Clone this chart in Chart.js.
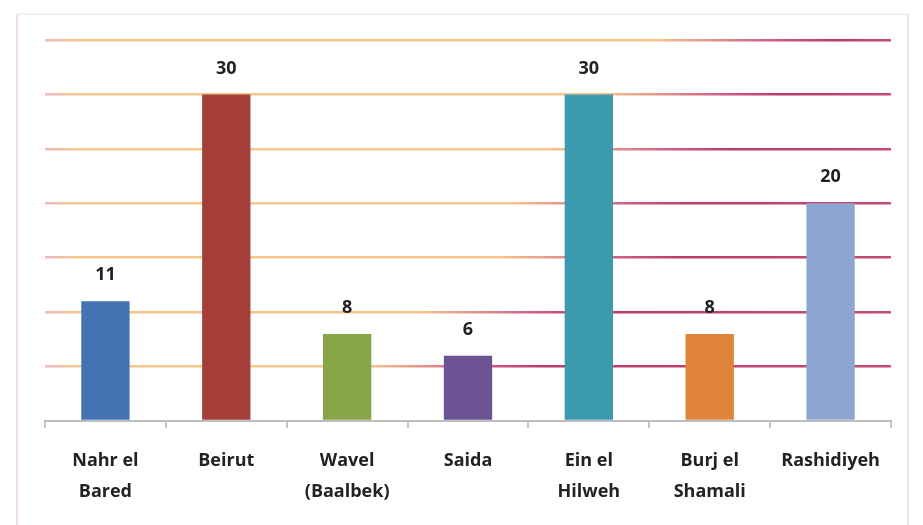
<!DOCTYPE html>
<html lang="en">
<head>
    <meta charset="UTF-8">
    <title>Camps</title>
    <style>
        html, body { margin: 0; padding: 0; background: #fff; }
        #wrap { width: 923px; height: 525px; }
    </style>
</head>
<body>
<script src="https://cdn.jsdelivr.net/npm/chart.js@4.4.1/dist/chart.umd.min.js"></script>
<div id="wrap"><canvas id="bar-chart" width="923" height="525"></canvas></div>
<script>
    var campNames = [
        ["Nahr el", "Bared"],
        "Beirut",
        ["Wavel", "(Baalbek)"],
        "Saida",
        ["Ein el", "Hilweh"],
        ["Burj el", "Shamali"],
        "Rashidiyeh"
    ];
    var campCounts = [11, 30, 8, 6, 30, 8, 20];
    var barColors = ["#4373b3", "#a63f3a", "#88a54a", "#6d5294", "#3c9ab0", "#e0843a", "#8ea7d1"];

    // where each gridline turns from orange to magenta (fraction of plot width)
    var fadePoint = [0, 0.52, 0.58, 0.68, 0.69, 0.74, 0.8, 0.86];

    function gridColor(ctx) {
        var chart = ctx.chart;
        var area = chart.chartArea;
        if (ctx.index === 0) return "rgba(0,0,0,0)";
        if (!area) return "#f6c58c";
        var g = chart.ctx.createLinearGradient(area.left, 0, area.right, 0);
        var t = fadePoint[ctx.index] || 0.7;
        g.addColorStop(0, "#f0b8c8");
        g.addColorStop(0.04, "#f6c58c");
        g.addColorStop(Math.max(0.05, t - 0.14), "#f6c58c");
        g.addColorStop(t, "#cf5c88");
        g.addColorStop(Math.min(1, t + 0.07), "#bd3a6c");
        g.addColorStop(1, "#c44a78");
        return g;
    }

    var framePlugin = {
        id: "frame",
        beforeDraw: function (chart) {
            var c = chart.ctx;
            c.save();
            c.lineWidth = 2;
            c.strokeStyle = "#f3dfe5";
            c.beginPath();
            c.moveTo(17, 525);
            c.lineTo(17, 14);
            c.stroke();
            c.strokeStyle = "#f5f0ea";
            c.beginPath();
            c.moveTo(17, 14);
            c.lineTo(908, 14);
            c.stroke();
            c.strokeStyle = "#e8e8e8";
            c.beginPath();
            c.moveTo(908, 14);
            c.lineTo(908, 525);
            c.stroke();
            c.restore();
        }
    };

    var valueLabels = {
        id: "valueLabels",
        afterDatasetsDraw: function (chart) {
            var c = chart.ctx;
            var meta = chart.getDatasetMeta(0);
            c.save();
            c.font = "bold 18px 'Open Sans', sans-serif";
            c.fillStyle = "#222";
            c.textAlign = "center";
            c.textBaseline = "middle";
            meta.data.forEach(function (bar, i) {
                c.fillText(String(campCounts[i]), bar.x, bar.y - 26);
            });
            c.restore();
        }
    };

    new Chart(document.getElementById("bar-chart"), {
        type: "bar",
        data: {
            labels: campNames,
            datasets: [{
                data: campCounts,
                backgroundColor: barColors,
                borderWidth: 0,
                barPercentage: 0.4,
                categoryPercentage: 1
            }]
        },
        options: {
            responsive: false,
            animation: false,
            layout: { padding: { top: 40, right: 32, left: 0, bottom: 0 } },
            plugins: {
                legend: { display: false },
                tooltip: { enabled: false }
            },
            scales: {
                x: {
                    afterFit: function (scale) { scale.height = 104; },
                    grid: {
                        drawOnChartArea: false,
                        drawTicks: true,
                        tickLength: 7,
                        color: "#c4c4c4",
                        lineWidth: 2
                    },
                    border: { color: "#bdbdbd", width: 2 },
                    ticks: {
                        color: "#222",
                        padding: 18,
                        maxRotation: 0,
                        font: { family: "'Open Sans', sans-serif", size: 18, weight: "bold", lineHeight: 1.7 }
                    }
                },
                y: {
                    min: 0,
                    max: 35,
                    afterFit: function (scale) { scale.width = 45; },
                    ticks: { display: false, stepSize: 5 },
                    border: { display: false },
                    grid: {
                        drawTicks: false,
                        lineWidth: 2.5,
                        color: gridColor
                    }
                }
            }
        },
        plugins: [framePlugin, valueLabels]
    });
</script>
</body>
</html>
